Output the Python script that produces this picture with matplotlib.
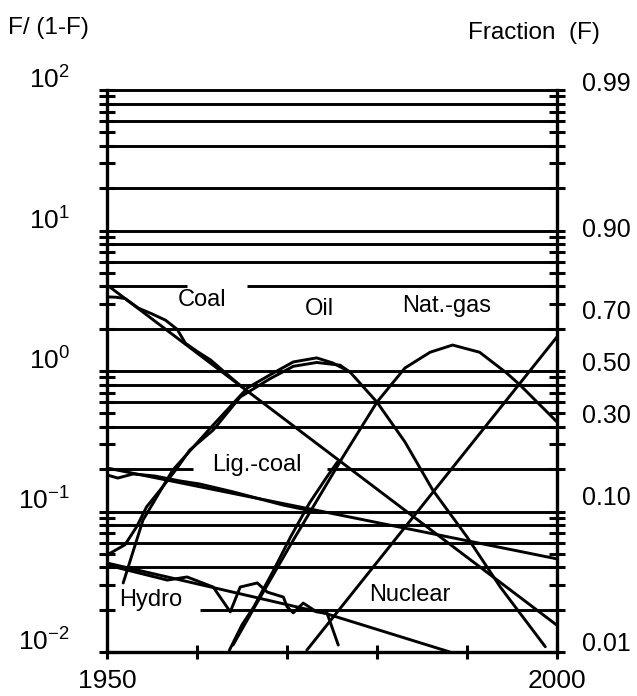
import matplotlib
matplotlib.use("Agg")
import matplotlib.pyplot as plt
import matplotlib.transforms as mtransforms
from matplotlib.ticker import LogLocator, NullFormatter
import numpy as np

plt.rcParams['font.family'] = ['Liberation Sans', 'DejaVu Sans']
plt.rcParams['mathtext.default'] = 'regular'

# ---------------- data (F/(1-F) values) ----------------
coal_fit_years = [1950, 2000]
coal_fit_vals = [4.1, 0.0155]
coal_data_years = [1950.0, 1951.0, 1952.0, 1953.5, 1955.0, 1956.5, 1957.8, 1958.7,
                   1960.0, 1961.5, 1963.0, 1965.0]
coal_data_vals = [3.37, 3.35, 3.28, 2.80, 2.55, 2.30, 1.98, 1.58,
                  1.38, 1.20, 0.99, 0.77]

lig_fit_years = [1950, 2000]
lig_fit_vals = [0.204, 0.046]
lig_data_years = [1950.0, 1951.2, 1952.9, 1955.3, 1958.1, 1960.3, 1964.0, 1969.6, 1973.7]
lig_data_vals = [0.182, 0.173, 0.185, 0.179, 0.165, 0.157, 0.138, 0.111, 0.098]

oil_fit_years = [1951.8, 1954.0, 1957.3, 1961.8, 1965.6, 1968.1, 1970.7, 1973.3, 1975.1,
                 1977.0, 1980.0, 1983.1, 1986.2, 1990.0, 1993.7, 1998.7]
oil_fit_vals = [0.031, 0.087, 0.197, 0.413, 0.757, 0.938, 1.16, 1.24, 1.14,
                0.984, 0.60, 0.313, 0.142, 0.066, 0.029, 0.0109]
oil_data_years = [1950.0, 1952.0, 1953.3, 1954.4, 1955.9, 1957.8, 1959.2, 1961.8, 1964.8,
                  1968.1, 1970.7, 1973.3, 1975.9, 1977.0]
oil_data_vals = [0.049, 0.058, 0.078, 0.108, 0.142, 0.204, 0.274, 0.38, 0.653,
                 0.88, 1.08, 1.15, 1.10, 0.98]

gas_fit_years = [1964.0, 1966.4, 1970.7, 1976.2, 1980.0, 1983.1, 1985.9, 1988.4,
                 1991.4, 1994.4, 1995.9, 2000.0]
gas_fit_vals = [0.0112, 0.0209, 0.0626, 0.244, 0.601, 1.05, 1.36, 1.53,
                1.36, 0.968, 0.794, 0.434]
gas_data_years = [1963.6, 1965.0, 1966.3, 1968.4, 1970.4, 1972.5, 1974.5, 1975.6]
gas_data_vals = [0.0103, 0.0156, 0.0209, 0.037, 0.066, 0.115, 0.179, 0.225]

nuclear_fit_years = [1972.2, 2000]
nuclear_fit_vals = [0.0103, 1.75]

hydro_fit_years = [1950, 1974.4, 1988.1]
hydro_fit_vals = [0.043, 0.0187, 0.01]
hydro_data_years = [1950.0, 1956.7, 1958.9, 1961.8, 1963.7, 1964.8, 1966.7, 1967.8, 1969.6,
                    1970.0, 1970.7, 1971.8, 1973.3, 1974.4, 1975.7]
hydro_data_vals = [0.0416, 0.0325, 0.0342, 0.029, 0.0193, 0.029, 0.031, 0.0267, 0.0246,
                   0.021, 0.019, 0.0223, 0.0193, 0.0193, 0.0112]

series_labels = ['Coal', 'Oil', 'Nat.-gas', 'Lig.-coal', 'Hydro', 'Nuclear']
label_years = [1960.6, 1973.6, 1987.7, 1966.6, 1954.9, 1983.7]
label_vals = [3.2, 2.76, 2.9, 0.214, 0.0234, 0.0255]

grid_values = [0.01, 0.02, 0.04, 0.06, 0.08, 0.1, 0.2, 0.4, 0.6, 0.8,
               1, 2, 4, 6, 8, 10, 20, 40, 60, 80, 100]
grid_gaps = [(4.0, 1958.9, 1965.6), (0.2, 1959.6, 1974.4), (0.02, 1950.0, 1960.3)]

fraction_labels = ['0.99', '0.90', '0.70', '0.50', '0.30', '0.10', '0.01']
fraction_values = [0.99, 0.90, 0.70, 0.50, 0.30, 0.10, 0.01]
decade_exponents = [2, 1, 0, -1, -2]
x_ticks = [1950, 1960, 1970, 1980, 1990, 2000]
x_tick_labels = ['1950', '', '', '', '', '2000']

# ---------------- figure ----------------
W, H = 637, 696
fig = plt.figure(figsize=(W / 100, H / 100), dpi=100)
ax = fig.add_axes([107 / W, 1 - 652 / H, 450 / W, 562 / H])
ax.set_yscale('log')
ax.set_xlim(1950, 2000)
ax.set_ylim(0.01, 100)

LW = 2.1
# horizontal grid lines (with gaps behind some labels)
for v in grid_values:
    segs = [(1950, 2000)]
    for gv, a, b in grid_gaps:
        if np.isclose(v, gv):
            new = []
            for s0, s1 in segs:
                if a > s0:
                    new.append((s0, a))
                if b < s1:
                    new.append((b, s1))
            segs = new
    for s0, s1 in segs:
        ax.hlines(v, s0, s1, color='black', lw=LW, clip_on=False, zorder=2)

def plot(xs, ys):
    ax.plot(xs, ys, color='black', lw=LW, solid_joinstyle='round',
            solid_capstyle='round', zorder=3)

plot(coal_fit_years, coal_fit_vals)
plot(coal_data_years, coal_data_vals)
plot(lig_fit_years, lig_fit_vals)
plot(lig_data_years, lig_data_vals)
plot(oil_fit_years, oil_fit_vals)
plot(oil_data_years, oil_data_vals)
plot(gas_fit_years, gas_fit_vals)
plot(gas_data_years, gas_data_vals)
plot(nuclear_fit_years, nuclear_fit_vals)
plot(hydro_fit_years, hydro_fit_vals)
plot(hydro_data_years, hydro_data_vals)

for lab, xx, yy in zip(series_labels, label_years, label_vals):
    ax.text(xx, yy, lab, ha='center', va='center', fontsize=17, zorder=4)

# spines
for s in ['left', 'right', 'bottom']:
    ax.spines[s].set_linewidth(2.4)
ax.spines['top'].set_visible(False)

# ticks
ax.set_xticks(x_ticks)
ax.set_xticklabels(x_tick_labels)
ax.tick_params(axis='x', direction='inout', length=10, width=2.2, pad=7, labelsize=19)
ax.yaxis.set_major_locator(LogLocator(base=10))
ax.yaxis.set_minor_locator(LogLocator(base=10, subs=np.arange(2, 10)))
ax.yaxis.set_minor_formatter(NullFormatter())
ax.tick_params(axis='y', which='both', direction='inout', length=11, width=2.2,
               left=True, right=True, labelleft=False, labelright=False)

# left decade labels
off_left = mtransforms.ScaledTranslation(0, 10 / 100, fig.dpi_scale_trans)
for e in decade_exponents:
    ax.text(-0.082, 10.0 ** e, '$10^{%d}$' % e, transform=ax.get_yaxis_transform() + off_left,
            ha='right', va='center', fontsize=19)

# right fraction labels
off_right = mtransforms.ScaledTranslation(0, 7 / 100, fig.dpi_scale_trans)
for lab, f in zip(fraction_labels, fraction_values):
    ax.text(1.056, f / (1 - f), lab, transform=ax.get_yaxis_transform() + off_right,
            ha='left', va='center', fontsize=18)

fig.text(8 / W, 1 - 28 / H, 'F/ (1-F)', ha='left', va='center', fontsize=17.5)
fig.text(600 / W, 1 - 33 / H, 'Fraction  (F)', ha='right', va='center', fontsize=17.5)

fig.savefig('out.png', dpi=100)
